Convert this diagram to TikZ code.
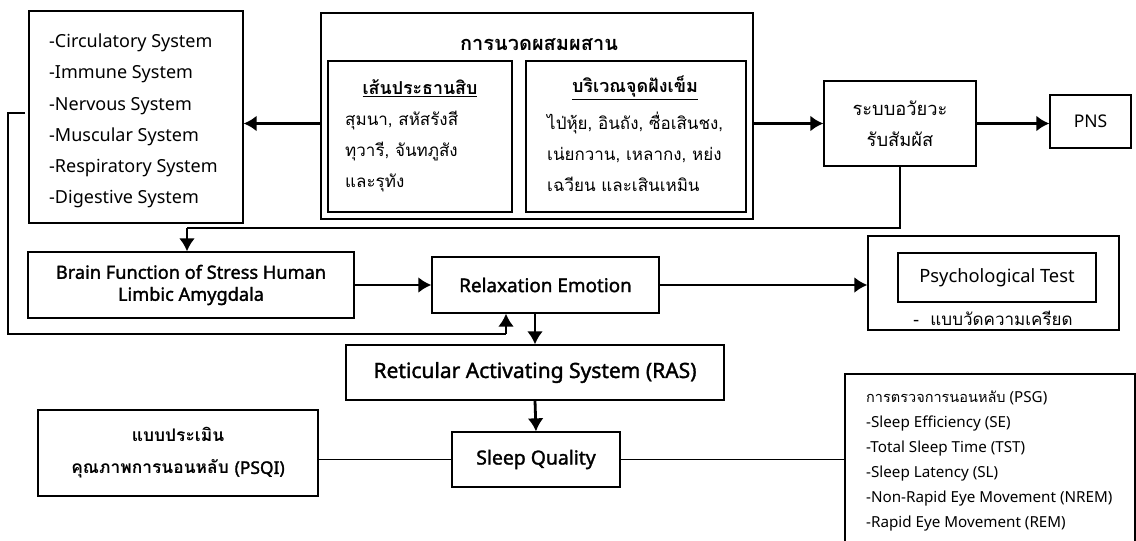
\documentclass[tikz,border=0pt]{standalone}
\usepackage{fontspec}
\setmainfont[Script=Thai]{Loma}
\newfontfamily\latin{Noto Sans}
\newfontfamily\latinb[FakeBold=1.6]{Noto Sans}
\usepackage{tikz}
\usetikzlibrary{arrows.meta}
\tikzstyle{box}=[draw, line width=1.3pt, inner sep=0pt, align=center]
\tikzstyle{arr}=[-{Latex[length=13pt,width=16pt]}, line width=2.8pt]
\tikzstyle{thin}=[line width=1.3pt]

\begin{document}
\begin{tikzpicture}[x=1pt,y=-1pt,font=\fontsize{17}{31}\selectfont]
    \useasboundingbox (0,0) rectangle (1136,541);

    % body systems
    \node[box,minimum width=214,minimum height=212] (sys) at (136,117) {};
    \node[anchor=west,align=left,inner sep=0pt,font=\fontsize{18}{31.3}\selectfont\latin] (sysx) at (49,121)
        {-Circulatory System\\-Immune System\\-Nervous System\\-Muscular System\\-Respiratory System\\-Digestive System};

    % massage block
    \node[box,minimum width=432,minimum height=206] (mass) at (537,116) {};
    \node[font=\fontsize{20}{22}\selectfont\bfseries] (masst) at (539,45) {การนวดผสมผสาน};
    \node[box,minimum width=184,minimum height=151] (line) at (420,136.5) {};
    \node[box,minimum width=220,minimum height=151] (point) at (636,136.5) {};
    \node[font=\fontsize{17.8}{20}\selectfont\bfseries] (linet) at (420,88) {\underline{เส้นประธานสิบ}};
    \node[font=\fontsize{18}{20}\selectfont\bfseries] (pointt) at (635,88) {\underline{บริเวณจุดฝังเข็ม}};
    \node[anchor=west,align=left,inner sep=0pt] (linex) at (345,152) {สุมนา, สหัสรังสี\\ทุวารี, จันทภูสัง\\และรุทัง};
    \node[anchor=west,align=left,inner sep=0pt] (pointx) at (547,152) {ไป่หุ้ย, อินถัง, ซื่อเสินชง,\\เน่ยกวาน, เหลากง, หย่ง\\เฉวียน และเสินเหมิน};

    % sense organs and PNS
    \node[box,minimum width=152,minimum height=85,font=\fontsize{18.3}{31}\selectfont] (sense) at (900,123.5) {ระบบอวัยวะ\\รับสัมผัส};
    \node[box,minimum width=81,minimum height=53,font=\fontsize{17.5}{20}\selectfont\latin] (pns) at (1090.5,121.5) {PNS};

    % middle row
    \node[box,minimum width=326,minimum height=66,font=\fontsize{18.2}{22}\selectfont\latinb] (brain) at (191,285)
        {Brain Function of Stress Human\\Limbic Amygdala};
    \node[box,minimum width=227,minimum height=56,font=\fontsize{18.9}{20}\selectfont\latinb] (relax) at (545.5,285) {Relaxation Emotion};
    \node[box,minimum width=251,minimum height=94] (psy) at (993.5,283) {};
    \node[box,minimum width=198,minimum height=49,font=\fontsize{18.3}{20}\selectfont\latin] (psyt) at (997,277.5) {Psychological Test};
    \node[font=\fontsize{17}{20}\selectfont] (psyx) at (993,318) {-\ \ แบบวัดความเครียด};

    % RAS and sleep
    \node[box,minimum width=378,minimum height=55,font=\fontsize{21}{22}\selectfont\latinb] (ras) at (535,372.5) {Reticular Activating System (RAS)};
    \node[box,minimum width=168,minimum height=55,font=\fontsize{19.4}{22}\selectfont\latinb] (sleep) at (536,459.5) {Sleep Quality};
    \node[box,minimum width=280,minimum height=86,font=\fontsize{17.4}{32}\selectfont\bfseries] (psqi) at (178,453)
        {แบบประเมิน\\คุณภาพการนอนหลับ {\latinb(PSQI)}};
    \node[box,minimum width=290,minimum height=190] (psg) at (990,469) {};
    \node[anchor=north west,align=left,inner sep=0pt,font=\fontsize{15.2}{25}\selectfont\latin] (psgx) at (866,391)
        {{\rmfamily\fontsize{14.5}{25}\selectfont การตรวจการนอนหลับ} (PSG)\\-Sleep Efficiency (SE)\\-Total Sleep Time (TST)\\-Sleep Latency (SL)\\-Non-Rapid Eye Movement (NREM)\\-Rapid Eye Movement (REM)};

    % connectors
    \draw[arr] (mass.west |- sense.west) -- (sys.east |- sense.west);
    \draw[arr] (mass.east |- sense.west) -- (sense.west);
    \draw[arr] (sense.east) -- (sense.east -| pns.west);

    \coordinate (bend) at (187,228);
    \draw[thin] (sense.south) |- (bend);
    \draw[arr] (bend) -- (bend |- brain.north);

    \coordinate (fb) at (25,113);
    \coordinate (fbl) at (8,334);
    \coordinate (fbr) at (506,334);
    \draw[thin] (fb) -| (fbl) -- (fbr);
    \draw[arr] (fbr) -- (fbr |- relax.south);

    \draw[arr] (brain.east) -- (relax.west);
    \draw[arr] (relax.east) -- (relax.east -| psy.west);
    \draw[arr] (ras.north |- relax.south) -- (ras.north);
    \draw[arr] (ras.south) -- (sleep.north);
    \draw[thin] (sleep.west) -- (sleep.west -| psqi.east);
    \draw[thin] (sleep.east) -- (sleep.east -| psg.west);

\end{tikzpicture}
\end{document}
